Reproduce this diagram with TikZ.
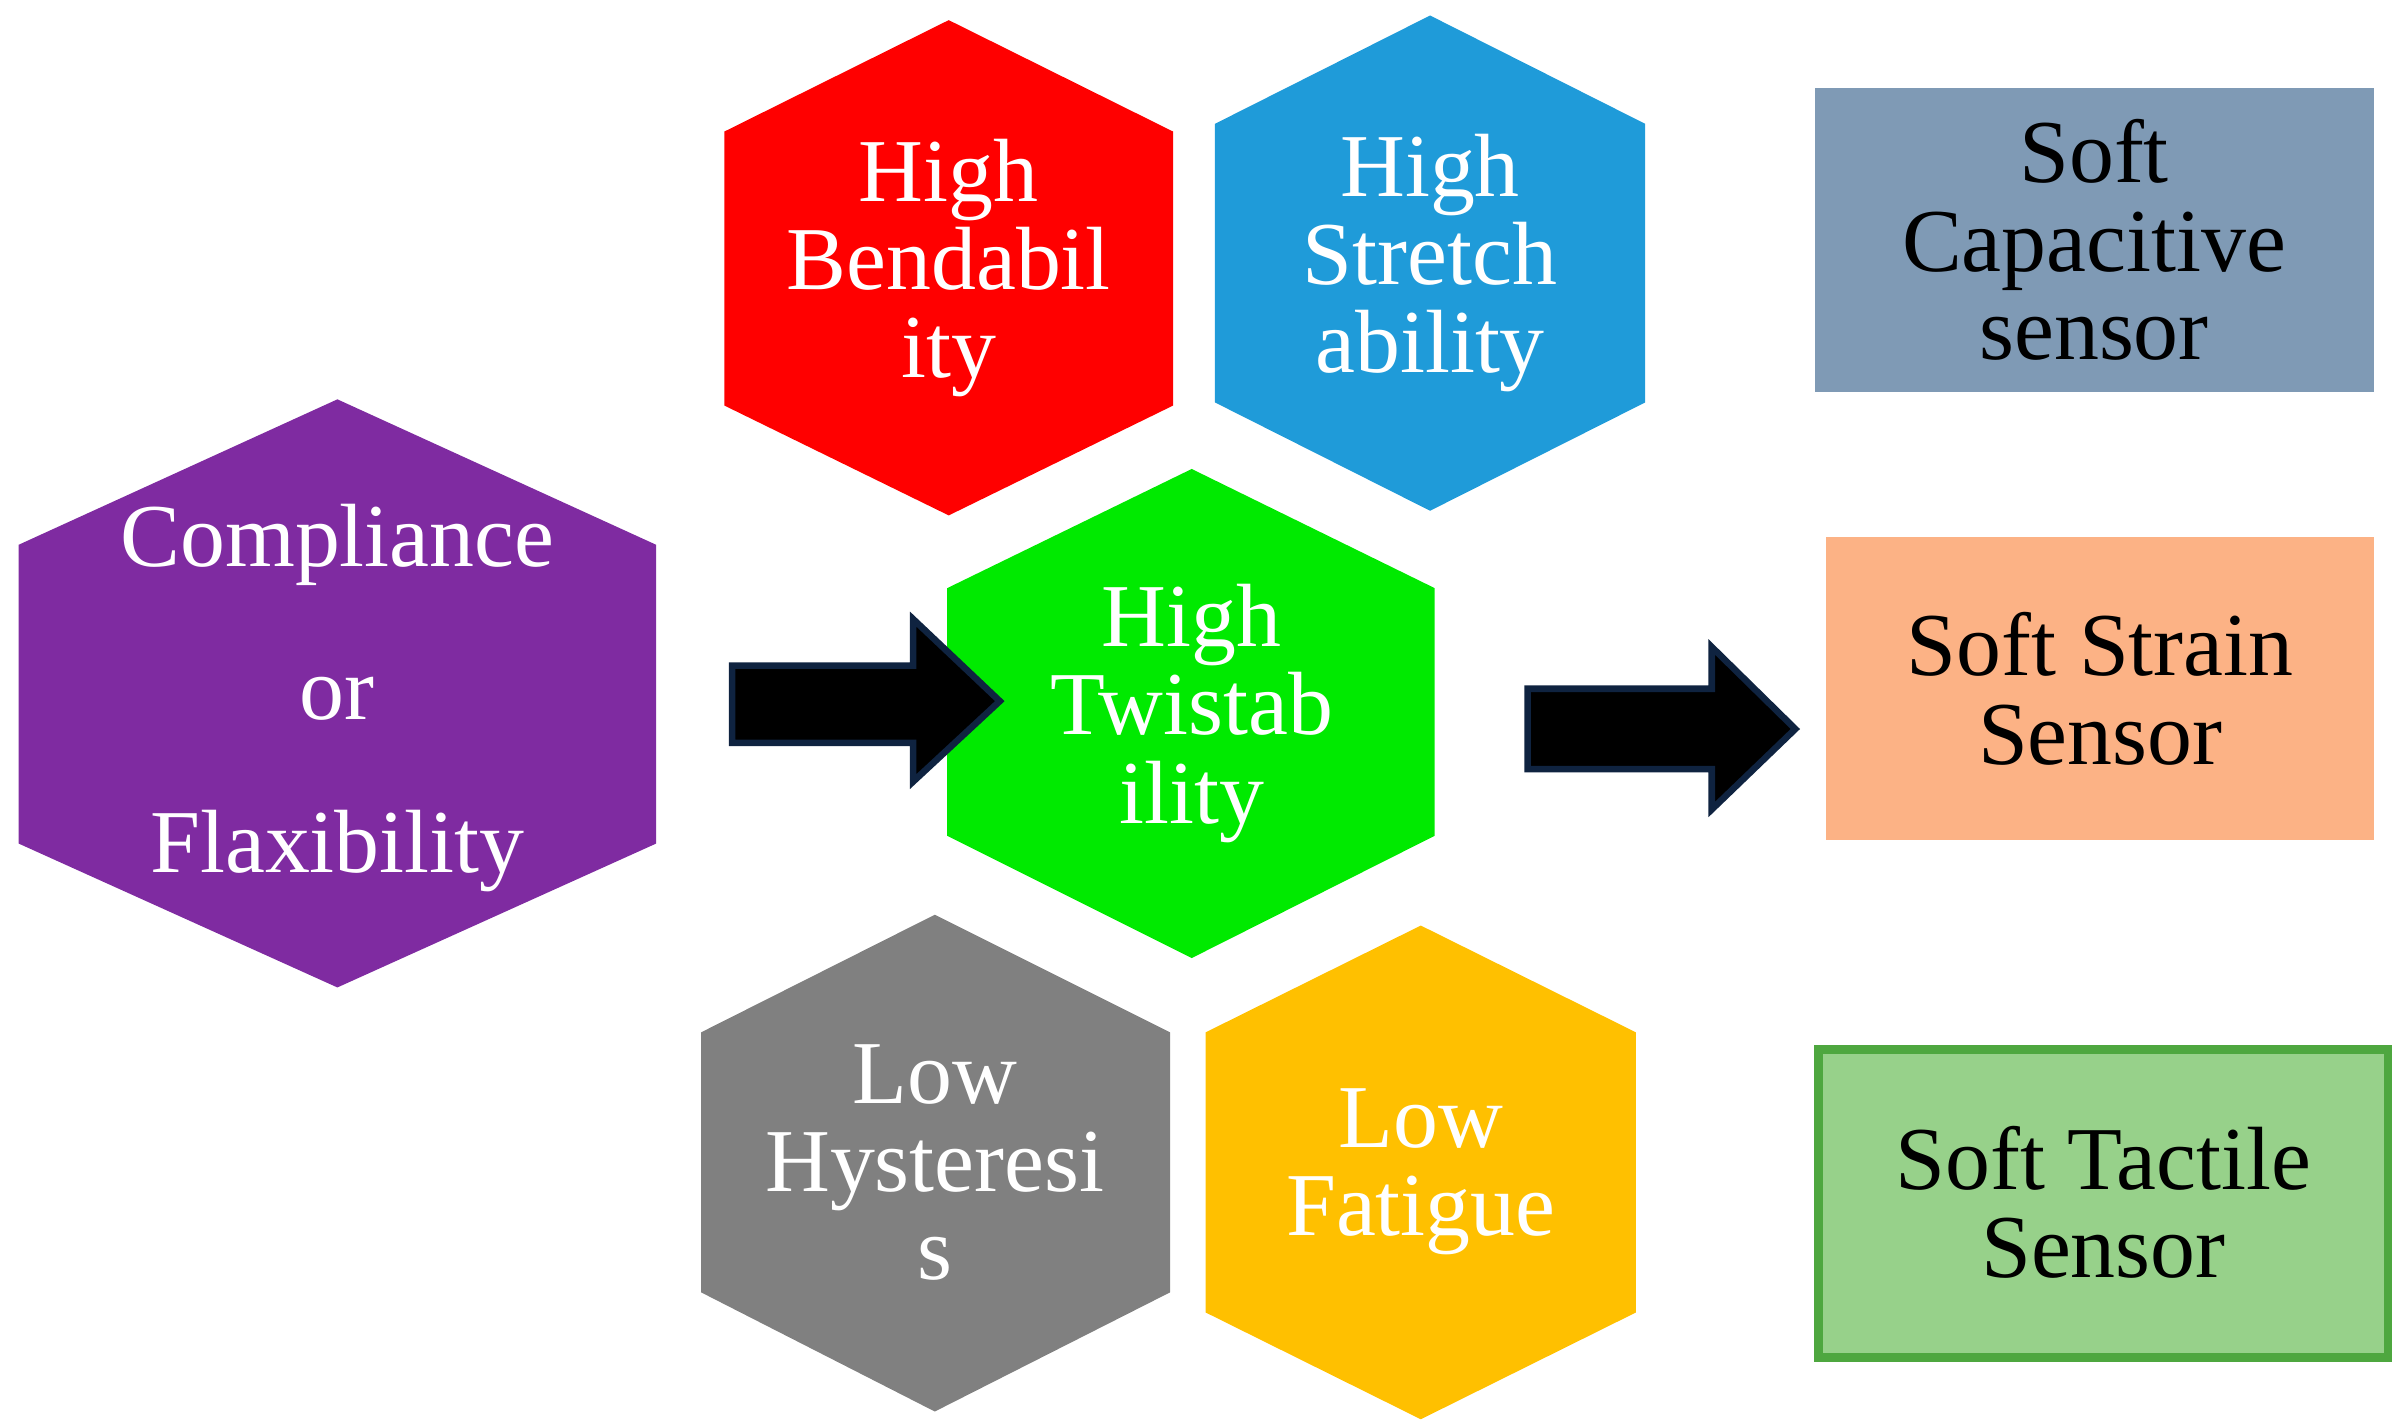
\documentclass[tikz,border=0pt]{standalone}
\usepackage{fontspec}
\setmainfont{Liberation Serif}
\begin{document}
\begin{tikzpicture}[x=0.01cm,y=-0.01cm,
  hx/.style={draw=none},
  ht/.style={text=white,align=center,font=\fontsize{16.5}{16.2}\selectfont},
  rt/.style={text=black,align=center,font=\fontsize{16.5}{16.2}\selectfont},
  blk/.style={fill=black,draw=black!70!blue!60!black,line width=1.2pt,line join=miter}]
\useasboundingbox (0,0) rectangle (1552,920);
\definecolor{cpur}{HTML}{7F2BA1}
\definecolor{cred}{HTML}{FF0000}
\definecolor{cblu}{HTML}{1F9BD9}
\definecolor{cgrn}{HTML}{00EA00}
\definecolor{cgry}{HTML}{808080}
\definecolor{cyel}{HTML}{FFC000}
\definecolor{ccap}{HTML}{7F9AB5}
\definecolor{cstr}{HTML}{FCB285}
\definecolor{ctac}{HTML}{97D18A}
\definecolor{ctacb}{HTML}{4EA73F}
\definecolor{cnav}{HTML}{0F2340}
\fill[cpur] (218,258)--(424,352)--(424,545)--(218,638)--(12,545)--(12,352)--cycle;
\fill[cred] (613,13)--(758,85)--(758,262)--(613,333)--(468,262)--(468,85)--cycle;
\fill[cblu] (924,10)--(1063,80)--(1063,260)--(924,330)--(785,260)--(785,80)--cycle;
\fill[cgrn] (770,303)--(927,380)--(927,540)--(770,619)--(612,540)--(612,380)--cycle;
\fill[cgry] (604,591)--(756,667)--(756,835)--(604,912)--(453,835)--(453,667)--cycle;
\fill[cyel] (918,598)--(1057,667)--(1057,848)--(918,917)--(779,848)--(779,667)--cycle;
\node[ht] (comp) at (218,451) {Compliance\\[12pt]or\\[12pt]Flaxibility};
\node[ht] (bend) at (613,173) {High\\Bendabil\\ity};
\node[ht] (str) at (924,170) {High\\Stretch\\ability};
\node[ht] (twi) at (770,461) {High\\Twistab\\ility};
\node[ht] (hys) at (604,751) {Low\\Hysteresi\\s};
\node[ht] (fat) at (918,757) {Low\\Fatigue};
\fill[ccap] (1173,57) rectangle (1534,253);
\fill[cstr] (1180,347) rectangle (1534,543);
\draw[fill=ctac,draw=ctacb,line width=1.6pt] (1175,678) rectangle (1543,877);
\node[rt] (cap) at (1353,155) {Soft\\Capacitive\\sensor};
\node[rt] (ss) at (1357,445) {Soft Strain\\Sensor};
\node[rt] (ts) at (1359,777) {Soft Tactile\\Sensor};
\draw[fill=black,draw=cnav,line width=1.2pt] (473,430)--(590,430)--(590,400)--(646,453)--(590,505)--(590,480)--(473,480)--cycle;
\draw[fill=black,draw=cnav,line width=1.2pt] (987,445)--(1106,445)--(1106,418)--(1160,471)--(1106,523)--(1106,497)--(987,497)--cycle;
\end{tikzpicture}
\end{document}
